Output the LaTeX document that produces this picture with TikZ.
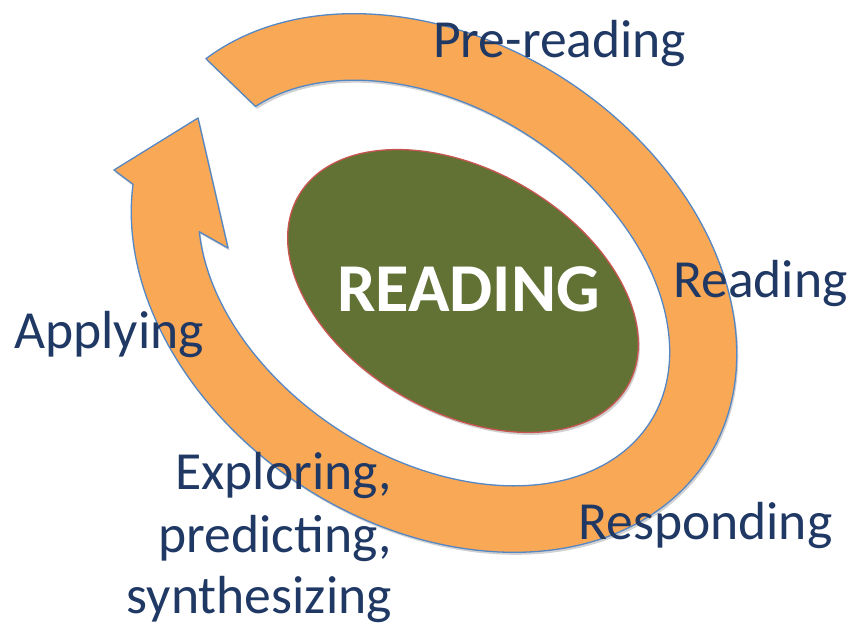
\documentclass[tikz,border=0pt]{standalone}
\usepackage{fontspec}
\setmainfont{Carlito}
\usetikzlibrary{shapes.geometric,shadows}
\definecolor{ringfill}{RGB}{249,168,86}
\definecolor{ringline}{RGB}{84,135,196}
\definecolor{corefill}{RGB}{98,114,53}
\definecolor{coreline}{RGB}{200,85,80}
\definecolor{labeltext}{RGB}{31,56,100}
\begin{document}
\begin{tikzpicture}[x=1pt,y=1pt,
  ringstyle/.style={fill=ringfill, draw=ringline, line width=1.3pt, line join=round,
    drop shadow={shadow xshift=1.5pt, shadow yshift=-2.5pt, opacity=0.18, fill=black}},
  corestyle/.style={ellipse, fill=corefill, draw=coreline, line width=1.3pt, inner sep=0pt,
    minimum width=380pt, minimum height=242pt, rotate=-30,
    drop shadow={shadow xshift=1.5pt, shadow yshift=-2.5pt, opacity=0.18, fill=black}},
  lbl/.style={text=labeltext, font=\fontsize{53.6}{63}\selectfont, inner sep=0pt},
  titlestyle/.style={text=white, font=\fontsize{68.5}{80}\selectfont\bfseries, inner sep=0pt}]
\useasboundingbox (0,0) rectangle (850,631);
% arrow head points
\coordinate (tip) at (198,513);
\coordinate (barbL) at (114,461);
\coordinate (barbR) at (228,383);
\begin{scope}[shift={(434,348)}, rotate=-33]
  \path[ringstyle] (164.7:325 and 242)
    arc[start angle=164.7, end angle=-160.4, x radius=325, y radius=242]
    -- (barbL) -- (tip) -- (barbR)
    -- (-151:257 and 175)
    arc[start angle=-151, end angle=163.1, x radius=257, y radius=175]
    -- cycle;
\end{scope}
\node[corestyle] (core) at (463,340) {};
\node[titlestyle, anchor=base] (title) at (468.5,319) {READING};
\node[lbl, anchor=base west] (pre) at (433,573) {Pre-reading};
\node[lbl, anchor=base west] (read) at (673,333) {Reading};
\node[lbl, anchor=base west] (apply) at (14,282) {Applying};
\node[lbl, anchor=base east] (expA) at (392,141) {Exploring,};
\node[lbl, anchor=base east] (expB) at (392,78) {predicting,};
\node[lbl, anchor=base east] (expC) at (392,18) {synthesizing};
\node[lbl, anchor=base west] (resp) at (578,91) {Responding};
\end{tikzpicture}
\end{document}
